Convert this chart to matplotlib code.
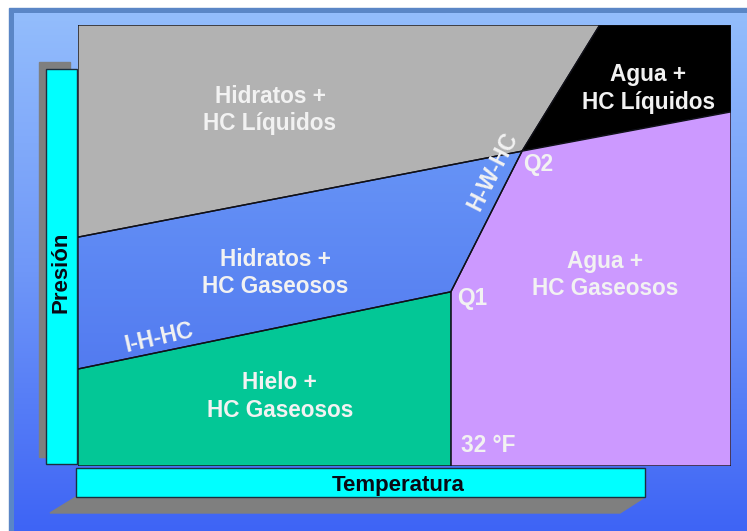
import numpy as np
import matplotlib
matplotlib.use("Agg")
import matplotlib.pyplot as plt
from matplotlib.patches import Polygon, Rectangle
from matplotlib.colors import LinearSegmentedColormap

plt.rcParams['font.family'] = ['Liberation Sans', 'DejaVu Sans']

# ---- data: phase-boundary points (Temperature %, Pressure %) ----
hyd_liq_left = [0, 51.9]        # Hidratos+HC Liq / Hidratos+HC Gas boundary at left
q2 = [68.0, 71.4]               # quadruple point Q2
black_top = [79.9, 100.0]       # gray/black boundary at top
black_right = [100.0, 80.3]     # black/purple boundary at right
q1 = [57.1, 39.5]               # quadruple point Q1
ice_left = [0, 22.0]            # I-H-HC line at left
freeze_T = 57.1                 # 32 °F line

region_labels = ["Hidratos +\nHC Líquidos", "Agua +\nHC Líquidos",
                 "Hidratos +\nHC Gaseosos", "Agua +\nHC Gaseosos",
                 "Hielo +\nHC Gaseosos"]
point_labels = ["Q1", "Q2", "32 °F"]
line_labels = ["I-H-HC", "H-W-HC"]
axis_labels = ["Presión", "Temperatura"]

W, H = 747, 531
fig = plt.figure(figsize=(W / 100, H / 100), dpi=100)

# ---- decoration axes in pixel coordinates ----
bg = fig.add_axes([0, 0, 1, 1])
bg.set_xlim(0, W)
bg.set_ylim(H, 0)
bg.axis('off')
bg.add_patch(Rectangle((0, 0), W, H, color='white', zorder=0))
bg.add_patch(Rectangle((9, 8), W, H, color='#5a86c6', zorder=1))
grad = np.linspace(0, 1, 256)[:, None]
bgcmap = LinearSegmentedColormap.from_list('bg', ['#93bdfc', '#6f97f8', '#3e64f5'])
bg.imshow(grad, cmap=bgcmap, extent=(14, W, H, 13), aspect='auto', zorder=2)

# vertical bar + shadow
bg.add_patch(Rectangle((39, 62), 31, 395, color='#7f7f7f', zorder=3))
bg.add_patch(Rectangle((46, 69), 31, 395, facecolor='#00ffff', edgecolor='#1b2f3f', lw=1, zorder=4))
# horizontal bar + shadow
bg.add_patch(Polygon([(76, 497), (645, 497), (620, 513), (50, 513)], closed=True,
                     color='#7f7f7f', zorder=3))
bg.add_patch(Rectangle((76, 468), 569, 29, facecolor='#00ffff', edgecolor='#1b2f3f', lw=1, zorder=4))
bg.text(61, 272, axis_labels[0], rotation=90, ha='center', va='center',
        fontsize=16, fontweight='bold', color='#0a0a14', zorder=5)
bg.text(398, 485, axis_labels[1], ha='center', va='center',
        fontsize=16, fontweight='bold', color='#0a0a14', zorder=5)

# ---- diagram axes (Temperature vs Pressure, 0..100) ----
x0, x1, y0, y1 = 78, 731, 25, 466
ax = fig.add_axes([x0 / W, (H - y1) / H, (x1 - x0) / W, (y1 - y0) / H])
ax.set_xlim(0, 100)
ax.set_ylim(0, 100)
ax.axis('off')

ek = dict(edgecolor='#101018', linewidth=1.0)
gray = Polygon([[0, 100], black_top, q2, hyd_liq_left], closed=True,
               facecolor='#b2b2b2', **ek, zorder=2)
black = Polygon([black_top, [100, 100], black_right, q2], closed=True,
                facecolor='#000000', **ek, zorder=2)
purple = Polygon([q2, black_right, [100, 0], [freeze_T, 0], q1], closed=True,
                 facecolor='#cc99ff', **ek, zorder=2)
blue = Polygon([hyd_liq_left, q2, q1, ice_left], closed=True,
               facecolor='none', **ek, zorder=3)
green = Polygon([ice_left, q1, [freeze_T, 0], [0, 0]], closed=True,
                facecolor='#03c796', **ek, zorder=2)
for p in (gray, black, purple, green, blue):
    ax.add_patch(p)
bluecmap = LinearSegmentedColormap.from_list('bl', ['#4a70ee', '#72a2f9'])
im = ax.imshow(grad, cmap=bluecmap, origin='lower', extent=(0, 100, 0, 100),
               aspect='auto', zorder=1.5)
im.set_clip_path(blue)

tk = dict(ha='center', va='center', fontsize=16.3, fontweight='bold',
          color='#f2f2f2', zorder=6, linespacing=1.25)
ax.text(29.4, 80.7, region_labels[0], **tk)
ax.text(87.3, 85.6, region_labels[1], **tk)
ax.text(30.2, 43.8, region_labels[2], **tk)
ax.text(80.7, 43.3, region_labels[3], **tk)
ax.text(30.9, 15.8, region_labels[4], **tk)
ax.text(60.3, 38.0, point_labels[0], **tk)
ax.text(70.4, 68.4, point_labels[1], **tk)
ax.text(62.8, 4.6, point_labels[2], **tk)
ax.text(12.4, 29.0, line_labels[0], rotation=13, rotation_mode='anchor', **tk)
ax.text(63.6, 66.8, line_labels[1], rotation=63, rotation_mode='anchor', **tk)

fig.savefig('out.png', dpi=100)
